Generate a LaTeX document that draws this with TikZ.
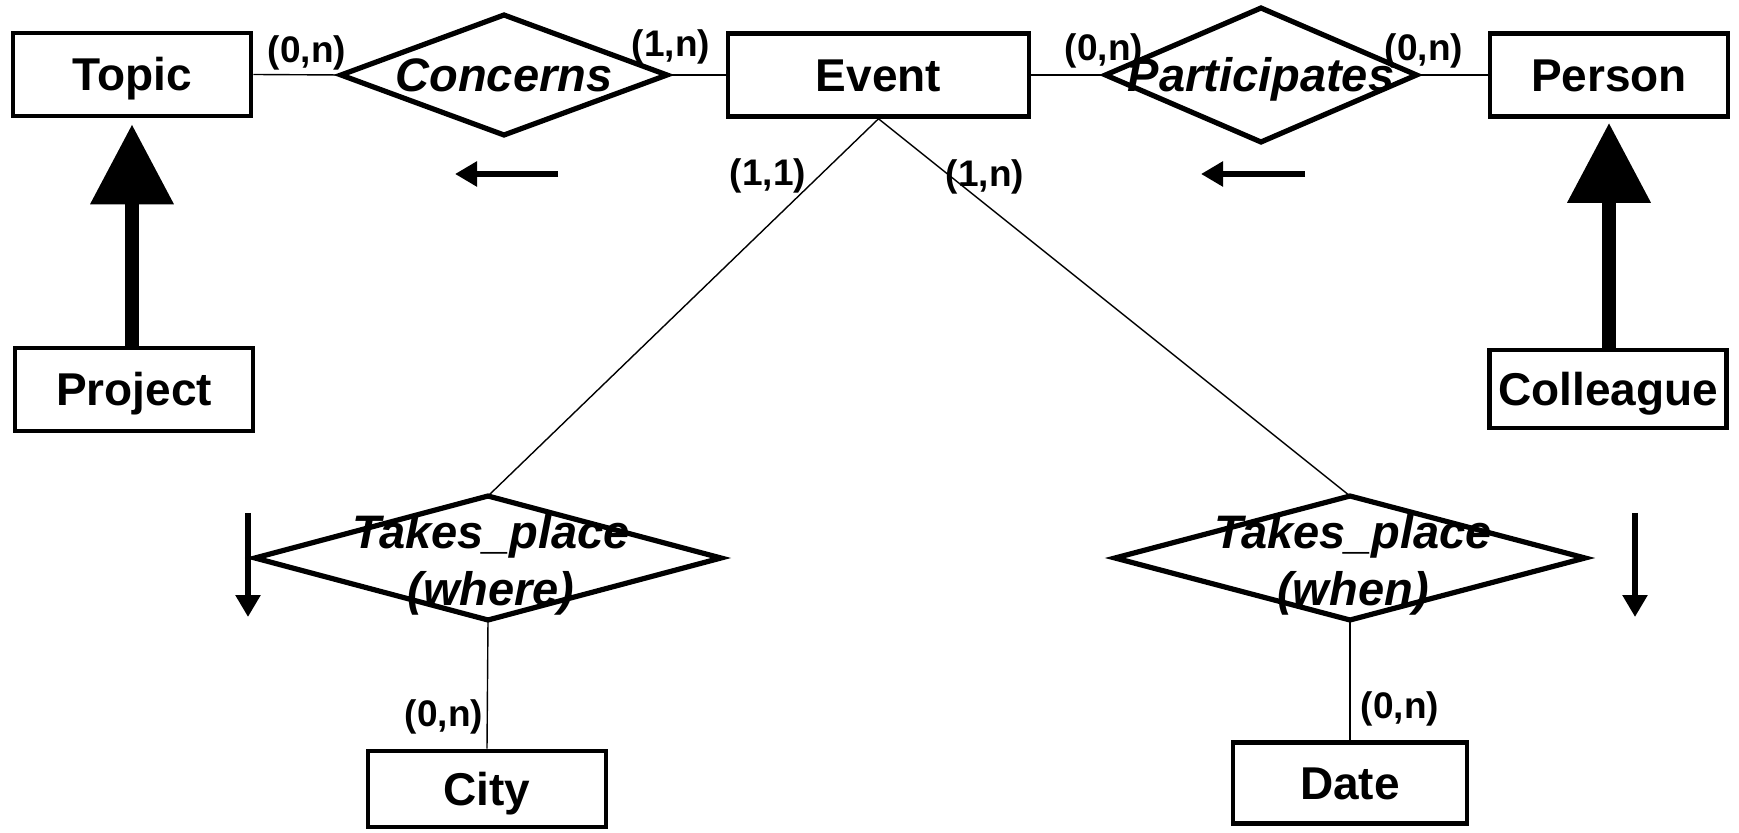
\documentclass[tikz,border=0pt]{standalone}
\usepackage{fontspec}
\setmainfont{Liberation Sans}
\usetikzlibrary{shapes.geometric,arrows.meta}
\begin{document}
\begin{tikzpicture}[x=0.5pt,y=-0.5pt,
  entity/.style 2 args={draw, line width=2.3pt, minimum width=#1, minimum height=#2,
    inner sep=0pt, font=\fontsize{23}{27}\selectfont\bfseries, text height=16.5pt, text depth=0pt},
  rel/.style 2 args={draw, diamond, line width=2.6pt, inner sep=0pt, outer sep=0pt,
    minimum width=#1, minimum height=#2},
  reltext/.style={font=\fontsize{23.5}{28.5}\selectfont\bfseries\itshape, inner sep=0pt},
  card/.style={font=\fontsize{18.5}{22}\selectfont\bfseries, inner sep=0pt},
  conn/.style={line width=0.7pt},
  isa/.style={line width=7pt, -{Triangle[width=40pt,length=40pt]}},
  dirarrow/.style={line width=3pt, -{Triangle[width=12pt,length=11pt]}}
]
\fill[white] (0,0) rectangle (1739,833);
\useasboundingbox (0,0) rectangle (1739,833);

% entities
\node[entity={119pt}{41.5pt}] (topic) at (132,74.5) {Topic};
\node[entity={150.5pt}{41.5pt}] (event) at (878.5,75) {Event};
\node[entity={119pt}{41.5pt}] (person) at (1609,75) {Person};
\node[entity={119pt}{41.5pt}] (project) at (134,389.5) {Project};
\node[entity={118.5pt}{39pt}] (colleague) at (1608,389) {Colleague};
\node[entity={119pt}{38pt}] (city) at (487,789) {City};
\node[entity={117pt}{40.5pt}] (date) at (1350,783) {Date};

% relationships
\node[rel={163pt}{60pt}] (concerns) at (504,75) {};
\node[reltext, text height=16.8pt, text depth=0pt] (concernsT) at (504,75) {Concerns};
\node[rel={155.5pt}{67pt}] (particip) at (1261,75) {};
\node[reltext, text height=16.8pt, text depth=0pt] (participT) at (1261,75) {Participates};
\node[rel={233pt}{62pt}] (where) at (488,558) {};
\node[reltext, align=center, anchor=north] (whereT) at (491,514) {Takes\_place\\(where)};
\node[rel={235pt}{62pt}] (when) at (1350,558) {};
\node[reltext, align=center, anchor=north] (whenT) at (1353,514) {Takes\_place\\(when)};

% connectors
\draw[conn] (topic.east) -- (concerns.west);
\draw[conn] (concerns.east) -- (event.west);
\draw[conn] (event.east) -- (particip.west);
\draw[conn] (particip.east) -- (person.west);
\draw[conn] (event.south) -- (where.north);
\draw[conn] (event.south) -- (when.north);
\draw[conn] (where.south) -- (city.north);
\draw[conn] (when.south) -- (date.north);

% cardinalities
\node[card] (c1) at (307,53) {(0,n)};
\node[card] (c2) at (671,47) {(1,n)};
\node[card] (c3) at (1104,51) {(0,n)};
\node[card] (c4) at (1424,51) {(0,n)};
\node[card] (c5) at (768,176) {(1,1)};
\node[card] (c6) at (985,177) {(1,n)};
\node[card] (c7) at (444,717) {(0,n)};
\node[card] (c8) at (1400,709) {(0,n)};

% generalisation arrows
\draw[isa, shorten >=3pt] (topic.south |- project.north) -- (topic.south);
\draw[isa, shorten >=2pt] (person.south |- colleague.north) -- (person.south);

% reading-direction arrows
\coordinate (d1s) at (558,174); \coordinate (d1e) at (455,174);
\coordinate (d2s) at (1305,174); \coordinate (d2e) at (1201,174);
\coordinate (d3s) at (248,513); \coordinate (d3e) at (248,617);
\coordinate (d4s) at (1635,513); \coordinate (d4e) at (1635,617);
\draw[dirarrow] (d1s) -- (d1e);
\draw[dirarrow] (d2s) -- (d2e);
\draw[dirarrow] (d3s) -- (d3e);
\draw[dirarrow] (d4s) -- (d4e);
\end{tikzpicture}
\end{document}
